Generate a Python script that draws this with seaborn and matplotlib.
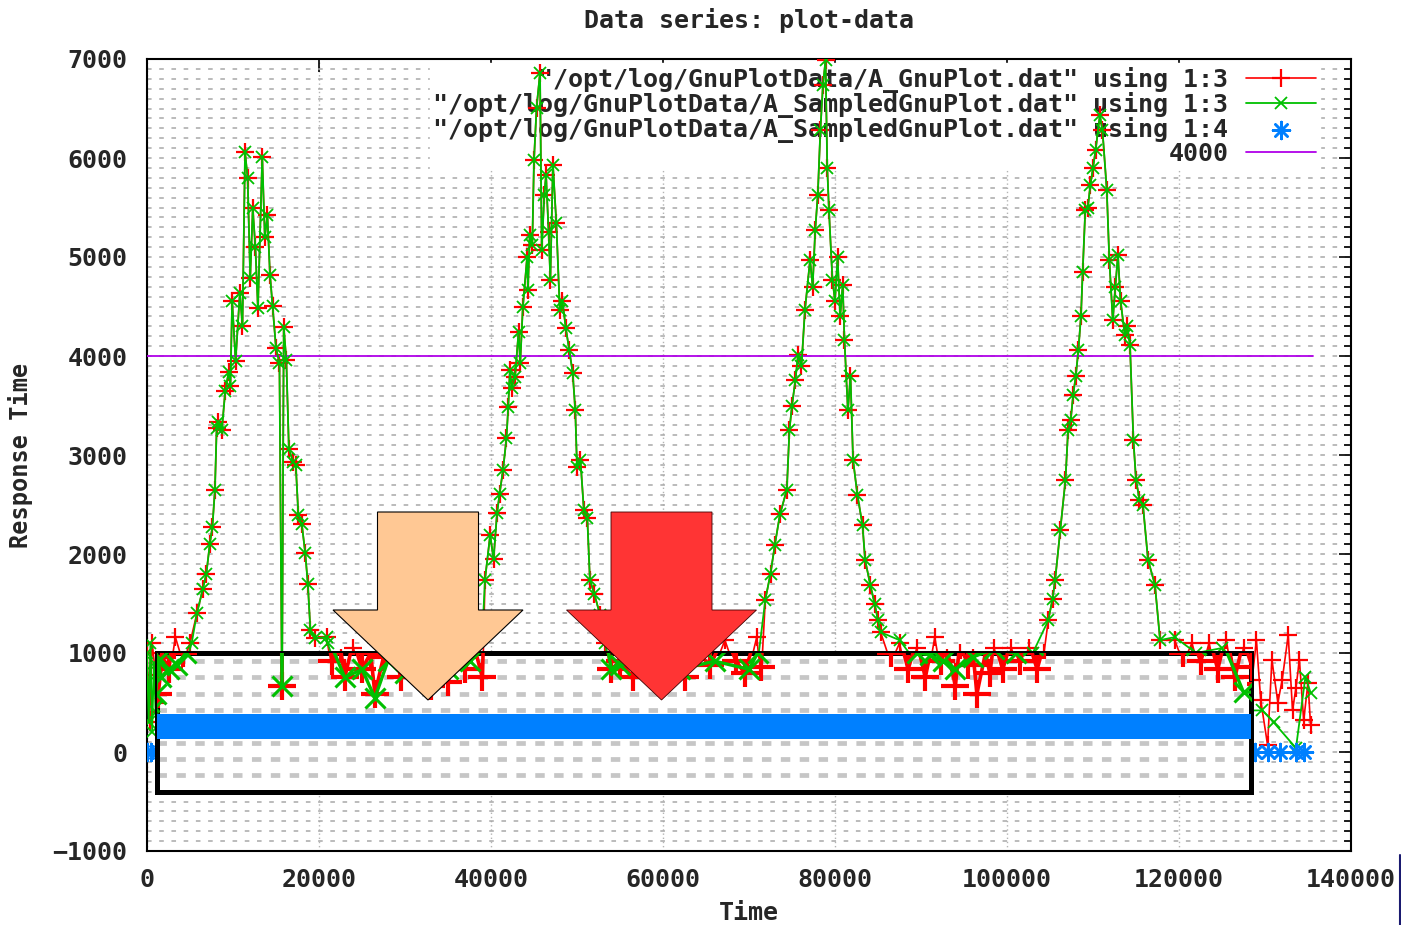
import numpy as np
import pandas as pd
import matplotlib
matplotlib.use("Agg")
import matplotlib.pyplot as plt
from matplotlib.ticker import MultipleLocator, NullLocator
from matplotlib.patches import Polygon
from matplotlib.lines import Line2D
import seaborn as sns

# ---------------- data ----------------
low0_red_x = [0, 300, 600, 1000, 1300, 1800, 2500, 3300, 4200, 5000]
low0_red_y = [1000, 300, 1100, 780, 400, 850, 700, 1160, 900, 1100]
low0_grn_x = [0, 200, 400, 600, 800, 1000, 1300, 1600, 2500, 3500, 4500, 5200]
low0_grn_y = [1000, 300, 1100, 200, 900, 400, 800, 600, 700, 750, 900, 1100]

peak1_x = [5800, 6500, 6900, 7300, 7600, 7900, 8100, 8300, 8700, 9100, 9500, 9700,
           9900, 10300, 10800, 11100, 11400, 11700, 12000, 12300, 12600, 12900,
           13400, 13700, 14000, 14300, 14600, 15000, 15400, 15700, 15900, 16200,
           16500, 17000, 17300, 17600, 18000, 18400, 18700, 19000, 19500, 20900]
peak1_y = [1400, 1650, 1800, 2100, 2270, 2650, 3270, 3330, 3250, 3650, 3840, 3700,
           4560, 3950, 4640, 4300, 6060, 5800, 4790, 5490, 5100, 4480,
           6010, 5200, 5420, 4820, 4510, 4080, 3930, 500, 4290, 3960,
           3060, 2930, 2900, 2390, 2300, 2010, 1700, 1230, 1150, 1160]

low1_red_x = [21500, 22500, 23000, 24000, 25000, 26000, 26500, 27500, 28500, 29500,
              30500, 31500, 32500, 33000, 34000, 35000, 36000, 37000, 38000, 39000]
low1_red_y = [800, 950, 600, 1050, 700, 900, 400, 850, 1050, 600,
              900, 700, 1000, 500, 800, 550, 950, 700, 1000, 600]
low1_grn_x = [21000, 23000, 25000, 26500, 28000, 30000, 32000, 35000, 37500, 39000]
low1_grn_y = [1100, 600, 700, 350, 800, 650, 900, 700, 800, 1200]

peak2_x = [39300, 39900, 40300, 40700, 41000, 41400, 41800, 42000, 42200, 42400,
           42800, 43200, 43400, 43700, 44200, 44300, 44500, 44800, 45000, 45300,
           45700, 45900, 46200, 46400, 46700, 46900, 47200, 47600, 48000, 48300,
           48700, 49100, 49500, 49800, 50000, 50400, 50800, 51200, 51500, 52000,
           52700, 53300, 54000]
peak2_y = [1740, 2190, 1950, 2410, 2610, 2850, 3170, 3480, 3860, 3680,
           3790, 4240, 3930, 4490, 5000, 4670, 5220, 5120, 5980, 6510,
           6860, 5070, 5630, 5830, 5250, 4770, 5930, 5340, 4460, 4560,
           4280, 4060, 3830, 3450, 2880, 2950, 2440, 2360, 1740, 1600,
           1380, 1100, 700]

low2_red_x = [55000, 56500, 58000, 59500, 61000, 62500, 64000, 65500, 67200,
              68500, 69500, 70900, 71400]
low2_red_y = [800, 600, 900, 700, 850, 600, 900, 750, 1130,
              800, 650, 1160, 730]
low2_grn_x = [55000, 58000, 62000, 66000, 70000, 71000]
low2_grn_y = [750, 800, 700, 800, 700, 900]

peak3_x = [71900, 72500, 73000, 73600, 74400, 74700, 75000, 75400, 75700, 76100,
           76500, 77100, 77400, 77700, 78000, 78300, 78600, 78900, 79100, 79300,
           79700, 80000, 80300, 80600, 80900, 81100, 81500, 81800, 82100, 82600,
           83200, 83500, 84100, 84600, 85000, 85300]
peak3_y = [1540, 1800, 2090, 2400, 2650, 3250, 3500, 3760, 4010, 3900,
           4460, 4970, 4700, 5270, 5630, 6280, 6740, 6990, 5900, 5470,
           4770, 4560, 5000, 4400, 4720, 4160, 3450, 3800, 2950, 2600,
           2290, 1940, 1690, 1500, 1330, 1210]

low3_red_x = [86500, 87500, 88500, 89500, 90500, 91600, 92300, 93000, 94000, 94500,
              95500, 96000, 96500, 97500, 98000, 98500, 99500, 100500, 101500,
              102500, 103500, 104300]
low3_red_y = [900, 1100, 700, 1050, 600, 1160, 800, 950, 500, 1000,
              750, 950, 400, 900, 650, 1050, 700, 1050, 800,
              1050, 700, 1000]
low3_grn_x = [87500, 89500, 91000, 92500, 94000, 96000, 98500, 101000, 103000]
low3_grn_y = [1130, 900, 880, 800, 700, 850, 950, 900, 1000]

peak4_x = [104800, 105300, 105600, 106200, 106800, 107100, 107400, 107700, 108000,
           108300, 108600, 108800, 109100, 109400, 109700, 110000, 110300, 110800,
           111100, 111600, 111900, 112300, 112600, 112900, 113200, 113700, 114000,
           114300, 114700, 115000, 115400, 115800, 116400, 117200, 117800]
peak4_y = [1330, 1550, 1740, 2240, 2750, 3250, 3350, 3610, 3800,
           4060, 4400, 4850, 5470, 5500, 5730, 5900, 6080, 6430,
           6280, 5680, 4970, 4360, 4700, 5020, 4560, 4210, 4300,
           4110, 3150, 2750, 2550, 2500, 1940, 1690, 1130]

tail_red_x = [119500, 120500, 121500, 122500, 123500, 124500, 125500, 126500, 127500,
              128500, 129000, 129500, 130300, 130800, 131500, 132000, 132700, 133200,
              133600, 134000, 134500, 135000, 135300]
tail_red_y = [1130, 900, 1100, 800, 1100, 700, 1130, 600, 1050,
              730, 1130, 525, 70, 930, 500, 730, 1180, 420,
              650, 930, 320, 700, 270]
tail_grn_x = [119500, 122000, 125000, 127500, 129700, 131000, 133600, 134700, 135300]
tail_grn_y = [1160, 1000, 1050, 420, 420, 300, 40, 760, 600]

blue_x = [0, 500, 1000, 20000, 40000, 60000, 80000, 100000, 120000,
          128800, 130300, 131800, 133600, 134500]
blue_y = [0, 0, 0, 0, 0, 0, 0, 0, 0, 0, 0, 0, 0, 0]

threshold_x = [0, 135600]
threshold_y = [4000, 4000]

x_ticks = [0, 20000, 40000, 60000, 80000, 100000, 120000, 140000]
y_ticks = [-1000, 0, 1000, 2000, 3000, 4000, 5000, 6000, 7000]

label_red = '"/opt/log/GnuPlotData/A_GnuPlot.dat" using 1:3'
label_grn = '"/opt/log/GnuPlotData/A_SampledGnuPlot.dat" using 1:3'
label_blu = '"/opt/log/GnuPlotData/A_SampledGnuPlot.dat" using 1:4'
label_thr = '4000'

red_x = low0_red_x + peak1_x + low1_red_x + peak2_x + low2_red_x + peak3_x + low3_red_x + peak4_x + tail_red_x
red_y = low0_red_y + peak1_y + low1_red_y + peak2_y + low2_red_y + peak3_y + low3_red_y + peak4_y + tail_red_y
grn_x = low0_grn_x + peak1_x + low1_grn_x + peak2_x + low2_grn_x + peak3_x + low3_grn_x + peak4_x + tail_grn_x
grn_y = low0_grn_y + peak1_y + low1_grn_y + peak2_y + low2_grn_y + peak3_y + low3_grn_y + peak4_y + tail_grn_y

red_df = pd.DataFrame({"Time": red_x, "Response Time": red_y})
grn_df = pd.DataFrame({"Time": grn_x, "Response Time": grn_y})
blu_df = pd.DataFrame({"Time": blue_x, "Response Time": blue_y})
thr_df = pd.DataFrame({"Time": threshold_x, "Response Time": threshold_y})

# ---------------- style ----------------
sns.set_theme(style="white")
plt.rcParams['font.family'] = ['DejaVu Sans Mono', 'DejaVu Sans']
plt.rcParams['font.weight'] = 'bold'

RED = '#ff0000'
GRN = '#00c000'
BLU = '#0080ff'
PUR = '#b000e8'

W, H = 1401, 925
fig = plt.figure(figsize=(W / 100, H / 100), dpi=100)
fig.patch.set_facecolor('white')
fig.subplots_adjust(left=147 / W, right=1351 / W, top=1 - 59 / H, bottom=1 - 851 / H)
ax = fig.add_subplot(111)
ax.set_facecolor('white')

sns.lineplot(data=red_df, x="Time", y="Response Time", sort=False, estimator=None,
             color=RED, lw=1.2, marker='+', markersize=13, markeredgewidth=1.6,
             markeredgecolor=RED, markerfacecolor=RED,
             label=label_red, ax=ax, zorder=3)
sns.lineplot(data=grn_df, x="Time", y="Response Time", sort=False, estimator=None,
             color=GRN, lw=1.3, marker='x', markersize=9, markeredgewidth=1.3,
             markeredgecolor=GRN, markerfacecolor=GRN,
             label=label_grn, ax=ax, zorder=4)
sns.scatterplot(data=blu_df, x="Time", y="Response Time", color=BLU,
                marker=(8, 2, 0), s=150, linewidth=1.8, edgecolor=BLU,
                label=label_blu, ax=ax, zorder=4)
sns.lineplot(data=thr_df, x="Time", y="Response Time", color=PUR, lw=1.3,
             label=label_thr, ax=ax, zorder=3)

ax.set_xlim(0, 140000)
ax.set_ylim(-1000, 7000)
ax.set_xticks(x_ticks)
ax.set_yticks(y_ticks)
ax.xaxis.set_minor_locator(NullLocator())
ax.yaxis.set_minor_locator(MultipleLocator(100))
ax.tick_params(which='both', direction='in', top=True, right=True, width=1.2, color='black')
ax.tick_params(which='major', length=9, labelsize=18, pad=14)
ax.tick_params(which='minor', length=5)
ax.tick_params(axis='x', which='major', pad=12)
for lab in ax.get_xticklabels() + ax.get_yticklabels():
    lab.set_fontweight('bold')

ax.grid(which='both', axis='y', color='#a8a8a8', linestyle=(0, (3, 5)), lw=1.1)
ax.grid(which='major', axis='x', color='#b4b4b4', linestyle=(0, (1, 2)), lw=1.0)
ax.set_axisbelow(True)
for s in ax.spines.values():
    s.set_color('black')
    s.set_linewidth(1.5)

ax.set_title('Data series: plot-data', fontsize=18, fontweight='bold', pad=22)
ax.set_xlabel('Time', fontsize=18, fontweight='bold', labelpad=7)
ax.set_ylabel('Response Time', fontsize=17, fontweight='bold', labelpad=14)

handles, labels = ax.get_legend_handles_labels()
leg = ax.legend(handles, labels, loc='upper right', bbox_to_anchor=(0.974, 0.995),
                markerfirst=False, frameon=True, fancybox=False, framealpha=1,
                facecolor='white', edgecolor='white',
                handlelength=2.8, handletextpad=0.7, labelspacing=-0.04,
                borderpad=0.15, borderaxespad=0.0, prop={'weight': 'bold', 'size': 18})
leg.set_zorder(2)

# ---------------- magnified box overlay ----------------
box_x = (1200, 128400)
box_y = (-400, 1000)
ax_in = ax.inset_axes([box_x[0], box_y[0], box_x[1] - box_x[0], box_y[1] - box_y[0]],
                      transform=ax.transData, zorder=6)
ax_in.set_facecolor('white')
sns.lineplot(data=red_df, x="Time", y="Response Time", sort=False, estimator=None,
             color=RED, lw=2.6, marker='+', markersize=20, markeredgewidth=3.0,
             markeredgecolor=RED, ax=ax_in, zorder=3, legend=False)
sns.lineplot(data=grn_df, x="Time", y="Response Time", sort=False, estimator=None,
             color=GRN, lw=2.4, marker='x', markersize=14, markeredgewidth=2.2,
             markeredgecolor=GRN, ax=ax_in, zorder=4, legend=False)
sns.lineplot(data=blu_df, x="Time", y="Response Time", color=BLU, lw=18,
             ax=ax_in, zorder=5, legend=False)
ax_in.set_xlim(*box_x)
ax_in.set_ylim(-800, 900)
ax_in.yaxis.set_major_locator(MultipleLocator(200))
ax_in.xaxis.set_major_locator(NullLocator())
ax_in.tick_params(length=0, labelleft=False, labelbottom=False)
ax_in.set_xlabel('')
ax_in.set_ylabel('')
ax_in.grid(axis='y', color='#c6c6c6', lw=3.4, linestyle=(0, (2, 2)))
ax_in.set_axisbelow(True)
for s in ax_in.spines.values():
    s.set_color('black')
    s.set_linewidth(3.6)


# ---------------- arrows (figure pixel geometry) ----------------
def down_arrow(cx, top, shaft_half, head_half, head_y, tip_y):
    pts = [(cx - shaft_half, top), (cx + shaft_half, top), (cx + shaft_half, head_y),
           (cx + head_half, head_y), (cx, tip_y), (cx - head_half, head_y),
           (cx - shaft_half, head_y)]
    return [(x / W, 1 - y / H) for x, y in pts]


fig.add_artist(Polygon(down_arrow(428, 512, 50.5, 95, 610, 700), closed=True,
                       facecolor='#ffc894', edgecolor='black', lw=0.8,
                       transform=fig.transFigure, zorder=10))
fig.add_artist(Polygon(down_arrow(661.5, 512, 50.5, 95, 610, 700), closed=True,
                       facecolor='#ff3434', edgecolor='#400000', lw=0.6,
                       transform=fig.transFigure, zorder=10))
fig.add_artist(Line2D([1400 / W, 1400 / W], [0, 70 / H], color='#1a1a70', lw=1.5,
                      transform=fig.transFigure, zorder=10))

fig.savefig('out.png', dpi=100, facecolor='white')
